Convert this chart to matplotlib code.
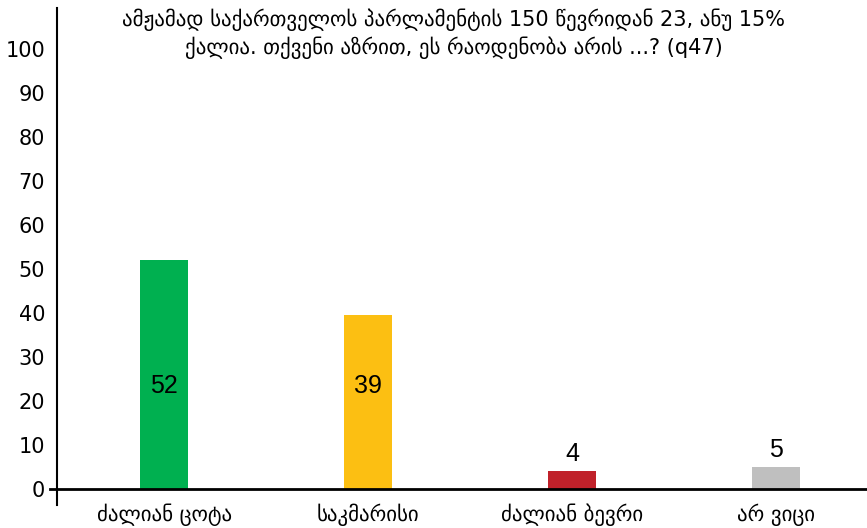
import matplotlib
matplotlib.use("Agg")
import matplotlib.pyplot as plt
import matplotlib.transforms as mtransforms

# data
categories = ["ძალიან ცოტა", "საკმარისი", "ძალიან ბევრი", "არ ვიცი"]
values = [52, 39.5, 4.1, 5.0]
colors = ["#00b050", "#fcbf12", "#c0212a", "#bfbfbf"]
yticks = [0, 10, 20, 30, 40, 50, 60, 70, 80, 90, 100]
title = ("ამჟამად საქართველოს პარლამენტის 150 წევრიდან 23, ანუ 15%\n"
         "ქალია. თქვენი აზრით, ეს რაოდენობა არის ...? (q47)")

fig = plt.figure(figsize=(8.67, 5.28), dpi=100)
ax = fig.add_axes([57 / 867, 1 - 505 / 528, 810 / 867, 497 / 528])

x = range(len(categories))
ax.bar(x, values, width=0.235, color=colors)

# value labels: inside for the tall bars, on top for the short ones
for i, v in enumerate(values):
    if v > 20:
        ax.text(i, 23.5, str(int(v)), ha="center", va="center",
                fontsize=18, family="Liberation Sans")
    else:
        ax.text(i, v + 1.2, str(int(v)), ha="center", va="bottom",
                fontsize=18, family="Liberation Sans")

ax.set_xlim(-0.525, 3.446)
ax.set_ylim(-3.6, 109.3)
ax.set_yticks(yticks)
ax.set_xticks(list(x))
ax.set_xticklabels(categories)
ax.tick_params(axis="y", length=0, pad=8.5, labelsize=15)
ax.tick_params(axis="x", length=0, pad=-1, labelsize=15)

for s in ["top", "right", "bottom"]:
    ax.spines[s].set_visible(False)
ax.spines["left"].set_linewidth(1.5)

# zero line, running a little past the y axis on the left
trans = mtransforms.blended_transform_factory(ax.transAxes, ax.transData)
ax.plot([-0.009, 1], [0, 0], color="black", lw=2, transform=trans, clip_on=False)

fig.text(454 / 867, 1 - 34 / 528, title, ha="center", va="center",
         fontsize=15, linespacing=1.3)

fig.savefig("out.png", dpi=100)
